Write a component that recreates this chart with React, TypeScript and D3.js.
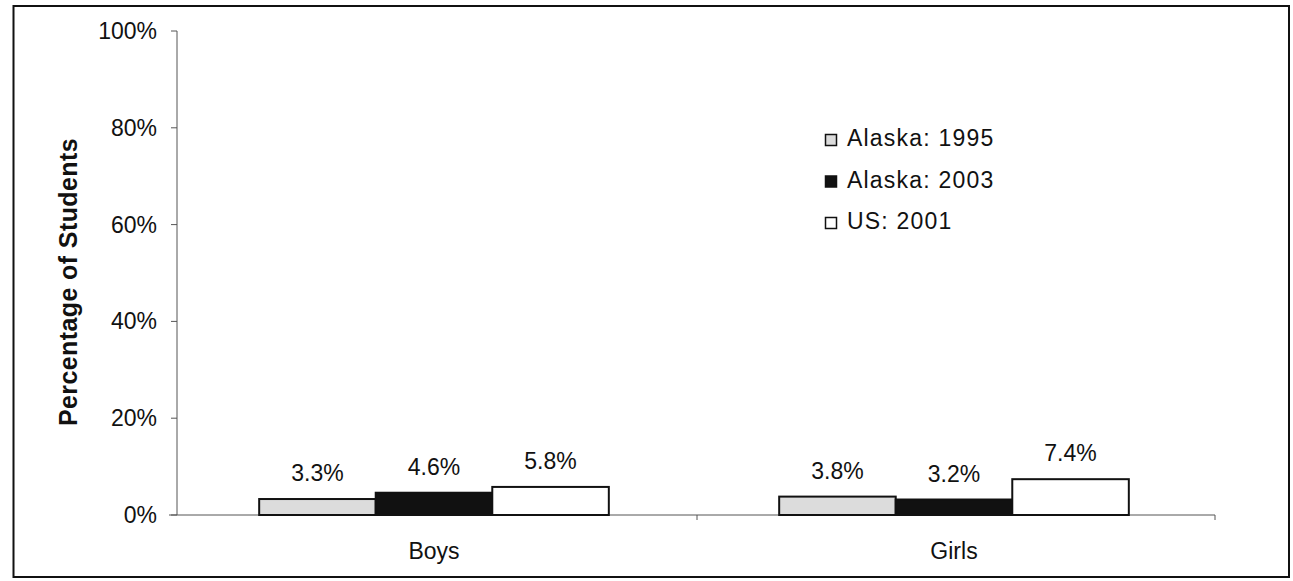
import React from "react";
import * as d3 from "d3";

const categories = ["Boys", "Girls"];
const seriesNames = ["Alaska: 1995", "Alaska: 2003", "US: 2001"];
const alaska1995 = [3.3, 3.8];
const alaska2003 = [4.6, 3.2];
const us2001 = [5.8, 7.4];
const yTicks = [0, 20, 40, 60, 80, 100];
const seriesFill = ["#dcdcdc", "#111111", "#ffffff"];

export default function App() {
  const W = 1293, H = 581;
  const axisX = 177, right = 1215, top = 31, bottom = 515;
  const series = [alaska1995, alaska2003, us2001];
  const y = d3.scaleLinear().domain([0, 100]).range([bottom, top]);
  const x0 = d3.scaleBand().domain(categories).range([174, 1214]).paddingInner(0.3276).paddingOuter(0.1638);
  const x1 = d3.scaleBand().domain(seriesNames).range([0, x0.bandwidth()]);
  const font = "Liberation Sans, Arial, sans-serif";
  return (
    <svg width={W} height={H} style={{ position: "absolute", left: 0, top: 0, background: "#fff" }} fontFamily={font}>
      <rect x={13.5} y={6} width={1275.5} height={571} fill="none" stroke="#111" strokeWidth={2} />
      {/* y axis */}
      <line x1={axisX} x2={axisX} y1={top} y2={bottom} stroke="#555" strokeWidth={1} />
      {yTicks.map((t) => (
        <g key={t}>
          <line x1={axisX - 6} x2={axisX} y1={y(t)} y2={y(t)} stroke="#555" />
          <text x={axisX - 20} y={y(t)} dy="0.35em" textAnchor="end" fontSize={23} fill="#111">{t}%</text>
        </g>
      ))}
      <text transform={`translate(77,282) rotate(-90)`} textAnchor="middle" fontSize={25} fontWeight="bold" fill="#111" letterSpacing={0.4}>Percentage of Students</text>
      {/* x axis */}
      <line x1={axisX - 8} x2={right} y1={bottom} y2={bottom} stroke="#555" />
      {[697, right].map((v, i) => (
        <line key={i} x1={v} x2={v} y1={bottom} y2={bottom + 5} stroke="#555" />
      ))}
      {categories.map((c, ci) => (
        <g key={c}>
          {series.map((s, si) => {
            const bx = (x0(c) as number) + (x1(seriesNames[si]) as number);
            const by = y(s[ci]);
            return (
              <g key={si}>
                <rect x={bx} y={by} width={x1.bandwidth()} height={bottom - by} fill={seriesFill[si]} stroke="#111" strokeWidth={2} />
                <text x={bx + x1.bandwidth() / 2} y={by - 18} textAnchor="middle" fontSize={23} fill="#111">{s[ci].toFixed(1)}%</text>
              </g>
            );
          })}
          <text x={(x0(c) as number) + x0.bandwidth() / 2} y={559} textAnchor="middle" fontSize={23} fill="#111">{c}</text>
        </g>
      ))}
      {/* legend */}
      {seriesNames.map((n, i) => (
        <g key={n} transform={`translate(825,${146 + i * 41.5})`}>
          <rect x={0.5} y={-11.5} width={11} height={11} fill={seriesFill[i]} stroke="#111" strokeWidth={1.5} />
          <text x={22} y={0} fontSize={23} fill="#111" letterSpacing={1.2}>{n}</text>
        </g>
      ))}
    </svg>
  );
}
